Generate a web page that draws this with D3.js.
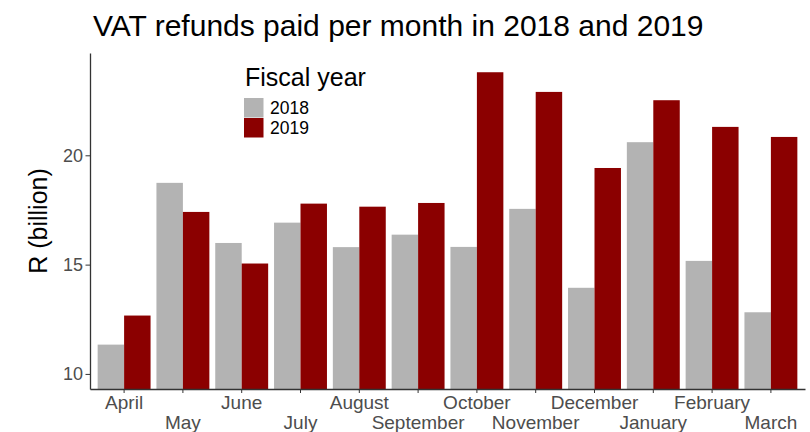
<!DOCTYPE html>
<html>
<head>
<meta charset="utf-8">
<script src="https://cdn.jsdelivr.net/npm/d3@7"></script>
<style>
  body { margin: 0; background: #fff; }
  text { font-family: "Liberation Sans", Arial, sans-serif; }
</style>
</head>
<body>
<div id="vis"></div>
<script>
const FRAME_WIDTH = 810;
const FRAME_HEIGHT = 432;
const MARGINS = {left: 90, right: 5, top: 53, bottom: 43};

// data (R billion)
const MONTHS = ["April", "May", "June", "July", "August", "September",
                "October", "November", "December", "January", "February", "March"];
const YEARS = ["2018", "2019"];
const VALUES_2018 = [11.34, 18.74, 15.99, 16.92, 15.80, 16.37,
                     15.81, 17.55, 13.94, 20.60, 15.17, 12.82];
const VALUES_2019 = [12.67, 17.41, 15.05, 17.79, 17.65, 17.82,
                     23.80, 22.90, 19.42, 22.52, 21.30, 20.84];
const Y_TICKS = [10, 15, 20];
const COLORS = {"2018": "#b3b3b3", "2019": "#8b0000"};

const data = MONTHS.map((m, i) => ({month: m, "2018": VALUES_2018[i], "2019": VALUES_2019[i]}));

const X_SCALE = d3.scaleBand()
                  .domain(MONTHS)
                  .range([MARGINS.left, FRAME_WIDTH - MARGINS.right])
                  .paddingInner(0.1)
                  .paddingOuter(0.13);

const X_SUB = d3.scaleBand()
                .domain(YEARS)
                .range([0, X_SCALE.bandwidth()]);

const Y_SCALE = d3.scaleLinear()
                  .domain([9.31, 24.68])
                  .range([FRAME_HEIGHT - MARGINS.bottom, MARGINS.top]);

const SVG = d3.select("#vis")
              .append("svg")
                .attr("width", FRAME_WIDTH)
                .attr("height", FRAME_HEIGHT);

// title
SVG.append("text")
    .attr("x", 93)
    .attr("y", 36)
    .attr("font-size", "30px")
    .attr("fill", "#000")
    .text("VAT refunds paid per month in 2018 and 2019");

// bars
const groups = SVG.selectAll(".month")
    .data(data)
    .enter()
    .append("g")
      .attr("transform", (d) => "translate(" + X_SCALE(d.month) + ",0)");

groups.selectAll("rect")
    .data((d) => YEARS.map((y) => ({year: y, value: d[y]})))
    .enter()
    .append("rect")
      .attr("x", (d) => X_SUB(d.year))
      .attr("y", (d) => Y_SCALE(d.value))
      .attr("width", X_SUB.bandwidth())
      .attr("height", (d) => Y_SCALE.range()[0] - Y_SCALE(d.value))
      .attr("fill", (d) => COLORS[d.year]);

// x axis, labels alternate between two rows
const xAxis = SVG.append("g")
    .attr("transform", "translate(0," + (FRAME_HEIGHT - MARGINS.bottom) + ")")
    .call(d3.axisBottom(X_SCALE).tickSize(4).tickSizeOuter(0));
xAxis.select(".domain").attr("stroke", "#333").attr("stroke-width", 1.3);
xAxis.selectAll(".tick line").attr("stroke", "#333");
xAxis.selectAll(".tick text")
    .attr("font-size", "19px")
    .attr("fill", "#4d4d4d")
    .attr("y", (d, i) => i % 2 === 0 ? 7 : 27)
    .attr("dy", "0.71em");

// y axis
const yAxis = SVG.append("g")
    .attr("transform", "translate(" + MARGINS.left + ",0)")
    .call(d3.axisLeft(Y_SCALE).tickValues(Y_TICKS).tickSize(4.5).tickSizeOuter(0));
yAxis.select(".domain").attr("stroke", "#333").attr("stroke-width", 1.3);
yAxis.selectAll(".tick line").attr("stroke", "#333");
yAxis.selectAll(".tick text")
    .attr("font-size", "18px")
    .attr("fill", "#4d4d4d")
    .attr("x", -7);

// y label
SVG.append("text")
    .attr("transform", "translate(47," + 221 + ") rotate(-90)")
    .attr("text-anchor", "middle")
    .attr("font-size", "25px")
    .attr("fill", "#000")
    .text("R (billion)");

// legend
const LEGEND = SVG.append("g").attr("transform", "translate(244,0)");
LEGEND.append("text")
    .attr("x", 1)
    .attr("y", 86)
    .attr("font-size", "25px")
    .attr("fill", "#000")
    .text("Fiscal year");

YEARS.forEach((y, i) => {
    LEGEND.append("rect")
        .attr("x", 0)
        .attr("y", 98 + i * 20)
        .attr("width", 19.5)
        .attr("height", 19.5)
        .attr("fill", COLORS[y]);
    LEGEND.append("text")
        .attr("x", 26)
        .attr("y", 114 + i * 20)
        .attr("font-size", "17.5px")
        .attr("fill", "#000")
        .text(y);
});
</script>
</body>
</html>
